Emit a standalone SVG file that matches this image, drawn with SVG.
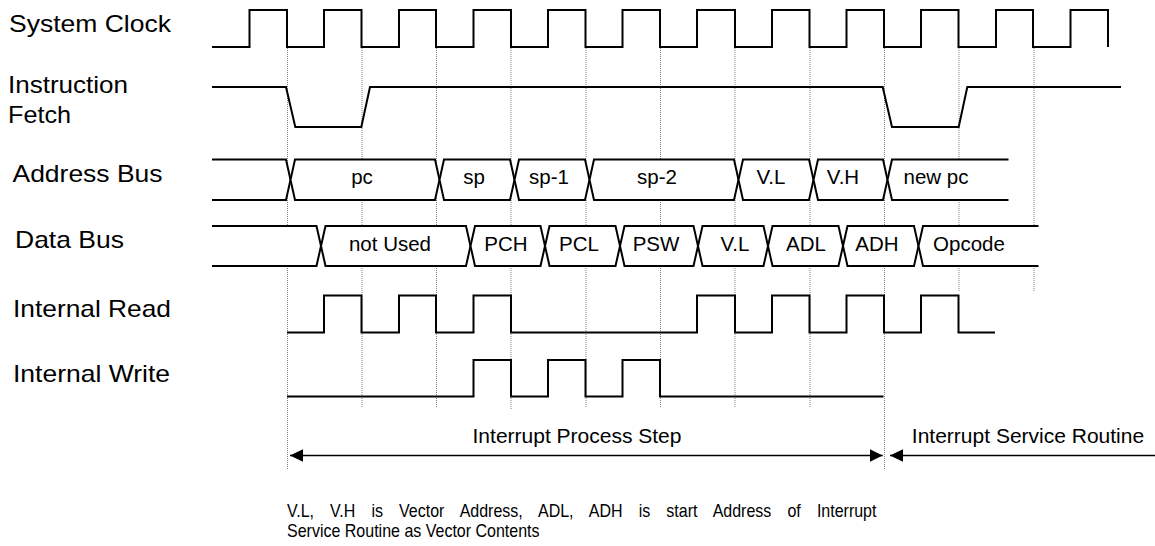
<svg xmlns="http://www.w3.org/2000/svg" width="1155" height="546" viewBox="0 0 1155 546">
<style>
.bg{fill:#fff}
.sig{fill:none;stroke:#000;stroke-width:2;stroke-linejoin:miter}
.bus{fill:#fff;stroke:#000;stroke-width:2;stroke-linejoin:miter}
.grid{stroke:#808080;stroke-width:1;stroke-dasharray:1 1;fill:none}
.lbl{font-family:"Liberation Sans",Arial,sans-serif;font-size:24px;fill:#000}
.bt{font-family:"Liberation Sans",Arial,sans-serif;font-size:20.5px;fill:#000;text-anchor:middle}
.st{font-family:"Liberation Sans",Arial,sans-serif;font-size:21px;fill:#000;text-anchor:middle}
.note{font-family:"Liberation Sans",Arial,sans-serif;font-size:18px;fill:#000}
.arr{stroke:#000;stroke-width:1.4;fill:none}
</style>
<defs>
<marker id="ah" markerUnits="userSpaceOnUse" markerWidth="14" markerHeight="14" refX="13" refY="6.3" orient="auto-start-reverse">
<path d="M0,0 L13,6.3 L0,12.6 Z" fill="#000"/>
</marker>
</defs>
<rect class="bg" x="0" y="0" width="1155" height="546"/>

<g id="gridlines">
<line class="grid" x1="287.5" y1="48" x2="287.5" y2="470"/>
<line class="grid" x1="362" y1="48" x2="362" y2="407"/>
<line class="grid" x1="436.5" y1="48" x2="436.5" y2="408"/>
<line class="grid" x1="511" y1="48" x2="511" y2="410"/>
<line class="grid" x1="586" y1="48" x2="586" y2="407"/>
<line class="grid" x1="660.5" y1="48" x2="660.5" y2="407"/>
<line class="grid" x1="735" y1="48" x2="735" y2="407"/>
<line class="grid" x1="810" y1="48" x2="810" y2="407"/>
<line class="grid" x1="884.5" y1="48" x2="884.5" y2="470"/>
<line class="grid" x1="959" y1="48" x2="959" y2="292"/>
<line class="grid" x1="1034" y1="48" x2="1034" y2="292"/>
</g>

<g id="labels">
<text class="lbl" x="9" y="32" textLength="162" lengthAdjust="spacingAndGlyphs">System Clock</text>
<text class="lbl" x="8" y="93" textLength="120" lengthAdjust="spacingAndGlyphs">Instruction</text>
<text class="lbl" x="8" y="123" textLength="63" lengthAdjust="spacingAndGlyphs">Fetch</text>
<text class="lbl" x="12.5" y="181.5" textLength="150" lengthAdjust="spacingAndGlyphs">Address Bus</text>
<text class="lbl" x="15" y="248" textLength="109" lengthAdjust="spacingAndGlyphs">Data Bus</text>
<text class="lbl" x="13" y="316.5" textLength="158" lengthAdjust="spacingAndGlyphs">Internal Read</text>
<text class="lbl" x="13" y="381.5" textLength="157" lengthAdjust="spacingAndGlyphs">Internal Write</text>
</g>

<g id="system-clock">
<path class="sig" d="M212,47 H249.5 V10 H287 V47 H324 V10 H361.5 V47 H399 V10 H436 V47 H473.5 V10 H511 V47 H548 V10 H585.5 V47 H622.5 V10 H660 V47 H697 V10 H735 V47 H772 V10 H809.5 V47 H846.5 V10 H884 V47 H921 V10 H958.5 V47 H996 V10 H1033 V47 H1070.5 V10 H1108 V47"/>
</g>

<g id="instruction-fetch">
<path class="sig" d="M212,87 H286 L295.3,127 H361.3 L370,87 H882.7 L892,127 H958.7 L967.3,87 H1121"/>
</g>

<g id="address-bus">
<path class="bus" d="M212,159.5 H286 L290.5,179.75 L286,200 H212"/>
<path class="bus" d="M290.5,179.75 L295,159.5 H435 L439.5,179.75 L435,200 H295 Z"/>
<path class="bus" d="M439.5,179.75 L444,159.5 H510 L514.5,179.75 L510,200 H444 Z"/>
<path class="bus" d="M514.5,179.75 L519,159.5 H585 L589.5,179.75 L585,200 H519 Z"/>
<path class="bus" d="M589.5,179.75 L594,159.5 H734 L738.5,179.75 L734,200 H594 Z"/>
<path class="bus" d="M738.5,179.75 L743,159.5 H809 L813.5,179.75 L809,200 H743 Z"/>
<path class="bus" d="M813.5,179.75 L818,159.5 H883 L887.5,179.75 L883,200 H818 Z"/>
<path class="bus" d="M1008.5,159.5 H892 L887.5,179.75 L892,200 H1008.5"/>
<text class="bt" x="362" y="184">pc</text>
<text class="bt" x="474" y="184">sp</text>
<text class="bt" x="549" y="184">sp-1</text>
<text class="bt" x="657" y="184">sp-2</text>
<text class="bt" x="771" y="184">V.L</text>
<text class="bt" x="843" y="184">V.H</text>
<text class="bt" x="936" y="184">new pc</text>
</g>

<g id="data-bus">
<path class="bus" d="M212,226 H316.5 L321,246 L316.5,266 H212"/>
<path class="bus" d="M321,246 L325.5,226 H466 L470.5,246 L466,266 H325.5 Z"/>
<path class="bus" d="M470.5,246 L475,226 H540.5 L545,246 L540.5,266 H475 Z"/>
<path class="bus" d="M545,246 L549.5,226 H615.5 L620,246 L615.5,266 H549.5 Z"/>
<path class="bus" d="M620,246 L624.5,226 H693.5 L698,246 L693.5,266 H624.5 Z"/>
<path class="bus" d="M698,246 L702.5,226 H763.5 L768,246 L763.5,266 H702.5 Z"/>
<path class="bus" d="M768,246 L772.5,226 H838.5 L843,246 L838.5,266 H772.5 Z"/>
<path class="bus" d="M843,246 L847.5,226 H914 L918.5,246 L914,266 H847.5 Z"/>
<path class="bus" d="M1038.5,226 H923 L918.5,246 L923,266 H1038.5"/>
<text class="bt" x="390" y="251">not Used</text>
<text class="bt" x="506" y="251">PCH</text>
<text class="bt" x="579" y="251">PCL</text>
<text class="bt" x="656" y="251">PSW</text>
<text class="bt" x="735" y="251">V.L</text>
<text class="bt" x="806" y="251">ADL</text>
<text class="bt" x="877" y="251">ADH</text>
<text class="bt" x="969" y="251">Opcode</text>
</g>

<g id="internal-read">
<path class="sig" d="M287,332.5 H324 V295.5 H361.5 V332.5 H399 V295.5 H436 V332.5 H473.5 V295.5 H511 V332.5 H697 V295.5 H735 V332.5 H772 V295.5 H809.5 V332.5 H846.5 V295.5 H884 V332.5 H921 V295.5 H958.5 V332.5 H995"/>
</g>

<g id="internal-write">
<path class="sig" d="M287,396.5 H473.5 V360 H511 V396.5 H548 V360 H585.5 V396.5 H622.5 V360 H660 V396.5 H883.5"/>
</g>

<g id="connectors">
<line class="arr" x1="290" y1="455.5" x2="882.7" y2="455.5" marker-start="url(#ah)" marker-end="url(#ah)"/>
<line class="arr" x1="890" y1="455.5" x2="1155" y2="455.5" marker-start="url(#ah)"/>
</g>

<g id="phase-labels">
<text class="st" x="577" y="442.5">Interrupt Process Step</text>
<text class="st" x="1028" y="442.5">Interrupt Service Routine</text>
</g>

<g id="note" transform="translate(287,0) scale(0.89,1)">
<text class="note" x="0" y="517" word-spacing="13.1">V.L, V.H is Vector Address, ADL, ADH is start Address of Interrupt</text>
<text class="note" x="0" y="537">Service Routine as Vector Contents</text>
</g>
</svg>
